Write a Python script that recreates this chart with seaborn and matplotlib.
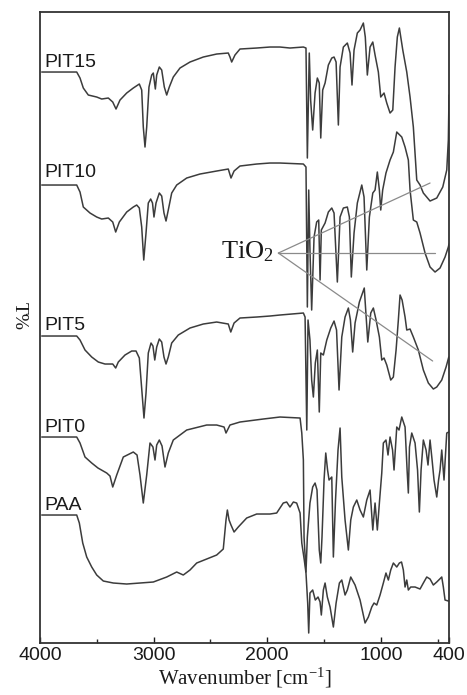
import numpy as np
import pandas as pd
import seaborn as sns
import matplotlib
matplotlib.use('Agg')
import matplotlib.pyplot as plt
from matplotlib.ticker import FixedLocator

# FTIR spectra, offset transmittance (arbitrary units) vs wavenumber (cm-1)
pit15_wn = [3985, 3677, 3648, 3619, 3575, 3501, 3457, 3399, 3360, 3331, 3296, 3237, 3179, 3126,
            3105, 3091, 3076, 3061, 3041, 3017, 3003, 2985, 2973, 2950, 2929, 2906, 2885, 2862,
            2827, 2768, 2680, 2563, 2445, 2343, 2328, 2313, 2284, 2240, 2093, 1976, 1888, 1800,
            1682, 1659, 1647, 1630, 1618, 1600, 1579, 1559, 1542, 1529, 1512, 1491, 1462, 1432,
            1412, 1394, 1374, 1359, 1330, 1295, 1271, 1254, 1236, 1207, 1183, 1154, 1137, 1119,
            1095, 1071, 1051, 1022, 1001, 972, 948, 919, 895, 875, 855, 837, 807, 772, 743, 714,
            684, 655, 626, 567, 508, 455, 420, 406, 400]
pit15_t = [571, 571, 565, 555, 548, 546, 544, 545, 541, 534, 543, 550, 555, 559,
           553, 516, 496, 516, 556, 568, 570, 554, 568, 576, 573, 556, 548, 556,
           566, 575, 581, 586, 589, 590, 586, 581, 588, 594, 595, 596, 596, 595,
           596, 595, 485, 590, 543, 513, 550, 565, 560, 505, 553, 560, 578, 585,
           586, 581, 518, 576, 596, 600, 590, 558, 593, 610, 613, 620, 606, 568,
           596, 601, 588, 571, 546, 550, 540, 530, 533, 576, 606, 615, 593, 571, 546, 516,
           463, 458, 450, 442, 445, 456, 473, 503, 548]

pit10_wn = [3985, 3677, 3648, 3619, 3560, 3501, 3457, 3399, 3360, 3334, 3302, 3237, 3179, 3149,
            3126, 3105, 3087, 3067, 3047, 3026, 3010, 2997, 2979, 2950, 2929, 2909, 2891, 2871,
            2841, 2797, 2709, 2592, 2445, 2343, 2319, 2292, 2240, 2093, 1976, 1888, 1682, 1659,
            1647, 1635, 1624, 1609, 1588, 1565, 1547, 1535, 1524, 1491, 1462, 1432, 1412, 1383,
            1359, 1330, 1295, 1277, 1260, 1236, 1207, 1168, 1148, 1124, 1101, 1071, 1051, 1031,
            1013, 1001, 984, 955, 919, 890, 860, 816, 787, 758, 743, 714, 684, 655, 611, 567,
            523, 479, 435, 406, 400]
pit10_t = [458, 458, 451, 436, 430, 426, 424, 425, 421, 411, 421, 431, 436, 438,
           435, 416, 383, 410, 440, 444, 440, 426, 440, 450, 447, 430, 422, 433,
           450, 458, 465, 469, 472, 474, 465, 472, 477, 479, 480, 480, 479, 476,
           336, 453, 393, 333, 406, 421, 423, 363, 413, 420, 431, 435, 430, 361,
           426, 435, 436, 426, 366, 410, 440, 458, 446, 373, 426, 450, 453, 471,
           453, 433, 453, 470, 483, 491, 511, 506, 496, 483, 453, 423, 421, 410, 390, 376,
           371, 375, 386, 396, 399]

pit5_wn = [3985, 3677, 3648, 3604, 3545, 3487, 3428, 3360, 3334, 3311, 3252, 3193, 3155, 3126,
           3102, 3085, 3067, 3047, 3023, 3006, 2990, 2973, 2950, 2929, 2909, 2891, 2871, 2841,
           2783, 2680, 2563, 2445, 2343, 2321, 2292, 2240, 2093, 1976, 1888, 1682, 1667, 1652,
           1641, 1624, 1609, 1594, 1577, 1559, 1542, 1529, 1506, 1476, 1441, 1412, 1390, 1368,
           1344, 1315, 1286, 1268, 1248, 1227, 1189, 1146, 1115, 1089, 1066, 1042, 1013, 992,
           972, 948, 913, 890, 866, 846, 831, 813, 787, 772, 743, 714, 670, 626, 582, 538,
           508, 464, 426, 402]
pit5_t = [307, 307, 303, 293, 286, 281, 279, 279, 275, 281, 288, 292, 292, 285,
          250, 225, 250, 290, 300, 297, 283, 296, 304, 301, 286, 279, 286, 300,
          308, 315, 319, 321, 319, 311, 320, 325, 326, 327, 328, 330, 326, 213,
          323, 303, 263, 246, 280, 293, 231, 290, 288, 303, 315, 322, 313, 253,
          306, 326, 335, 323, 291, 320, 341, 355, 301, 330, 335, 323, 306, 283,
          285, 278, 263, 266, 293, 323, 348, 343, 326, 313, 314, 306, 293, 273, 260, 254,
          256, 263, 276, 286]

pit0_wn = [3985, 3677, 3648, 3604, 3545, 3490, 3413, 3384, 3360, 3325, 3267, 3179, 3146, 3120,
           3091, 3061, 3032, 3006, 2988, 2973, 2950, 2926, 2900, 2871, 2827, 2709, 2533, 2445,
           2380, 2363, 2328, 2240, 2035, 1888, 1711, 1696, 1682, 1676, 1659, 1647, 1624, 1600,
           1579, 1562, 1542, 1529, 1518, 1500, 1485, 1469, 1456, 1432, 1418, 1399, 1377, 1359,
           1344, 1315, 1286, 1265, 1242, 1212, 1183, 1154, 1124, 1095, 1071, 1051, 1031, 1013,
           992, 978, 955, 937, 919, 897, 884, 860, 840, 816, 787, 769, 758, 748, 728, 699,
           677, 661, 646, 626, 602, 585, 567, 549, 532, 508, 492, 479, 464, 444, 420, 402]
pit0_t = [206, 206, 200, 186, 180, 175, 170, 167, 156, 168, 186, 191, 188, 168,
          140, 168, 200, 196, 183, 198, 203, 197, 176, 190, 203, 213, 218, 218,
          216, 210, 218, 221, 224, 226, 225, 210, 183, 106, 71, 106, 140, 156,
          160, 153, 93, 80, 106, 163, 190, 173, 163, 166, 86, 143, 193, 215,
          166, 123, 93, 123, 136, 143, 133, 126, 143, 153, 113, 140, 113, 140,
          170, 200, 203, 188, 206, 193, 173, 216, 213, 226, 216, 173, 150, 196, 210, 200,
          173, 131, 173, 203, 193, 178, 203, 183, 163, 146, 163, 173, 193, 163, 210, 211]

paa_wn = [3985, 3677, 3654, 3624, 3589, 3545, 3501, 3443, 3355, 3237, 3120, 3003, 2885, 2797,
          2739, 2680, 2621, 2533, 2445, 2387, 2363, 2351, 2336, 2319, 2292, 2255, 2181, 2093,
          1976, 1917, 1859, 1829, 1800, 1770, 1741, 1711, 1696, 1674, 1659, 1644, 1635, 1624,
          1600, 1577, 1553, 1535, 1524, 1506, 1491, 1471, 1447, 1418, 1394, 1365, 1344, 1315,
          1295, 1265, 1227, 1183, 1139, 1110, 1080, 1060, 1036, 1007, 978, 955, 934, 913,
          890, 860, 837, 818, 802, 787, 772, 758, 737, 699, 655, 626, 596, 567, 538, 508,
          464, 450, 435, 406]
paa_t = [128, 128, 120, 100, 86, 76, 68, 62, 60, 59, 60, 61, 66, 71,
         68, 73, 80, 84, 88, 94, 123, 133, 123, 118, 111, 116, 125, 129,
         129, 130, 140, 141, 136, 141, 140, 130, 100, 83, 70, 40, 10, 50,
         53, 43, 46, 41, 28, 53, 60, 46, 36, 16, 40, 60, 63, 48,
         53, 66, 58, 43, 20, 26, 36, 40, 38, 48, 60, 70, 63, 73,
         80, 76, 80, 81, 73, 56, 63, 53, 56, 56, 54, 60, 66, 64, 58, 61,
         66, 56, 43, 42]

samples = ['PIT15', 'PIT10', 'PIT5', 'PIT0', 'PAA']
series = [(pit15_wn, pit15_t), (pit10_wn, pit10_t), (pit5_wn, pit5_t),
          (pit0_wn, pit0_t), (paa_wn, paa_t)]

frames = []
for name, (wn, t) in zip(samples, series):
    frames.append(pd.DataFrame({'wavenumber': wn, 'T': t, 'sample': name}))
df = pd.concat(frames, ignore_index=True)

sns.set_theme(style='white')
plt.rcParams['font.family'] = ['Liberation Sans', 'DejaVu Sans']
plt.rcParams['mathtext.fontset'] = 'custom'
plt.rcParams['mathtext.rm'] = 'Liberation Serif'
plt.rcParams['mathtext.it'] = 'Liberation Serif:italic'

fig = plt.figure(figsize=(4.67, 6.95), dpi=100)
ax = fig.add_axes([0.0857, 0.0748, 0.8758, 0.9079])

sns.lineplot(data=df, x='wavenumber', y='T', hue='sample', units='sample',
             estimator=None, sort=False, palette=['#3c3c3c'] * 5,
             linewidth=1.1, legend=False, ax=ax)

ax.set_xlim(4000, 400)
ax.set_ylim(0, 631)

# curve labels
label_y = {'PIT15': 581, 'PIT10': 471, 'PIT5': 318, 'PIT0': 216, 'PAA': 138}
for name in samples:
    ax.text(3958, label_y[name], name, fontsize=14, color='#1a1a1a',
            ha='left', va='center')

# TiO2 annotation lines
apex = (1902, 390)
for end in [(567, 460), (523, 390), (544, 282)]:
    ax.plot([apex[0], end[0]], [apex[1], end[1]], color='#8a8a8a', lw=0.9)
ax.text(2178, 391, 'TiO$_2$', fontsize=19, family='Liberation Serif',
        color='#1a1a1a', ha='center', va='center')

ax.xaxis.set_major_locator(FixedLocator([4000, 3000, 2000, 1000, 400]))
ax.xaxis.set_minor_locator(FixedLocator([3500, 2500, 1500, 500]))
ax.set_xticklabels(['4000', '3000', '2000', '1000', '400'])
ax.tick_params(axis='x', which='major', direction='in', length=4, width=1,
               labelsize=14, pad=3, colors='#1a1a1a', bottom=True)
ax.tick_params(axis='x', which='minor', direction='in', length=3, width=1, bottom=True)
ax.set_yticks([])

for s in ax.spines.values():
    s.set_color('#333333')
    s.set_linewidth(1.3)

ax.set_xlabel('Wavenumber [cm$^{-1}$]', fontsize=15, family='Liberation Serif',
              color='#1a1a1a', labelpad=1)
ax.set_ylabel('T%', fontsize=14, family='Liberation Serif', rotation=270,
              color='#1a1a1a', ha='center', va='center')
ax.yaxis.set_label_coords(-0.051, 0.518)

fig.savefig('out.png', dpi=100)
